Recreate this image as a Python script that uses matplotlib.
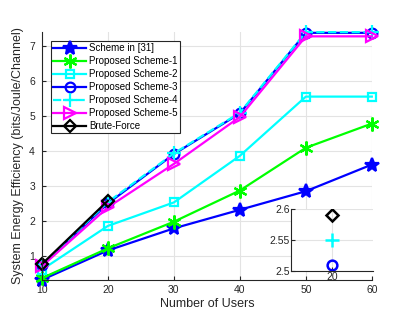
import numpy as np
import matplotlib
matplotlib.use('Agg')
import matplotlib.pyplot as plt

# Kullanıcı sayısı ve enerji verimliliği değerleri
users = [10, 20, 30, 40, 50, 60]
scheme_31 = [0.33, 1.17, 1.80, 2.33, 2.86, 3.62]
scheme_1 = [0.38, 1.23, 1.99, 2.88, 4.10, 4.79]
scheme_2 = [0.62, 1.87, 2.54, 3.87, 5.56, 5.56]
scheme_3 = [0.75, 2.51, 3.92, 5.08, 7.38, 7.38]
scheme_4 = [0.76, 2.55, 3.94, 5.10, 7.40, 7.40]
scheme_5 = [0.72, 2.40, 3.64, 4.98, 7.28, 7.28]
bf_users = [10, 20]
brute_force = [0.78, 2.59]

labels = ['Scheme in [31]', 'Proposed Scheme-1', 'Proposed Scheme-2', 'Proposed Scheme-3',
          'Proposed Scheme-4', 'Proposed Scheme-5', 'Brute-Force']

plt.rcParams['font.family'] = ['Liberation Sans', 'DejaVu Sans']
axcol = '#262626'

fig = plt.figure(figsize=(4.15, 3.12), dpi=100)
ax = fig.add_axes([0.101, 0.103, 0.795, 0.794])

asterisk = (6, 2, 0)
styles = [
    dict(color='#0000ff', marker='*', ms=10, ls='-'),
    dict(color='#00ff00', marker=asterisk, ms=10, ls='-'),
    dict(color='#00ffff', marker='s', ms=6, ls='-', mfc='none'),
    dict(color='#0000ff', marker='o', ms=7, ls='-', mfc='none'),
    dict(color='#00ffff', marker='+', ms=10, ls='--'),
    dict(color='#ff00ff', marker='>', ms=8, ls='-', mfc='none'),
    dict(color='#000000', marker='D', ms=6, ls='-', mfc='none'),
]
series = [scheme_31, scheme_1, scheme_2, scheme_3, scheme_4, scheme_5]

for i, s in enumerate(series):
    ax.plot(users, s, lw=1.6, mew=1.6, label=labels[i], clip_on=False, **styles[i])
ax.plot(bf_users, brute_force, lw=1.6, mew=1.6, label=labels[6], clip_on=False, **styles[6])

all_vals = np.concatenate([np.array(s) for s in series] + [np.array(brute_force)])
ax.set_xlim(10, 60)
ax.set_ylim(all_vals.min(), all_vals.max())
ax.set_xticks(users)
ax.set_yticks([1, 2, 3, 4, 5, 6, 7])
ax.grid(True, color='#e3e3e3', lw=0.8)
ax.set_axisbelow(True)
for side in ['top', 'right']:
    ax.spines[side].set_visible(False)
for side in ['left', 'bottom']:
    ax.spines[side].set_color(axcol)
ax.tick_params(colors=axcol, labelsize=7.5, direction='in', length=3)
ax.tick_params(axis='y', pad=5)
ax.set_xlabel('Number of Users', fontsize=9, color=axcol, labelpad=2.5)
ax.set_ylabel('System Energy Efficiency (bits/Joule/Channel)', fontsize=9, color=axcol, labelpad=4)

leg = ax.legend(loc='upper left', bbox_to_anchor=(0.027, 0.964), fontsize=7, handlelength=3.4,
                handletextpad=0.3, borderpad=0.25, labelspacing=0.3, fancybox=False,
                framealpha=1, borderaxespad=0)
leg.get_frame().set_edgecolor(axcol)
leg.get_frame().set_linewidth(0.8)

# Büyütülmüş alt grafik (sadece x=20 noktaları)
ins = fig.add_axes([0.701, 0.132, 0.198, 0.198])
ins.set_facecolor('white')
for i, s in enumerate(series):
    st = dict(styles[i], ls='none')
    ins.plot(users[1], s[1], mew=1.8, **st)
ins.plot(bf_users[1], brute_force[1], mew=1.8, **dict(styles[6], ls='none'))
ins.set_xlim(19.5, 20.5)
ins.set_ylim(2.5, 2.6)
ins.set_xticks([20])
ins.set_yticks([2.5, 2.55, 2.6])
ins.set_yticklabels(['2.5', '2.55', '2.6'])
ins.grid(True, color='#e3e3e3', lw=0.8)
ins.set_axisbelow(True)
for side in ['top', 'right']:
    ins.spines[side].set_visible(False)
for side in ['left', 'bottom']:
    ins.spines[side].set_color(axcol)
ins.tick_params(colors=axcol, labelsize=7.5, direction='in', length=3, pad=1)

fig.savefig('out.png', dpi=100)
